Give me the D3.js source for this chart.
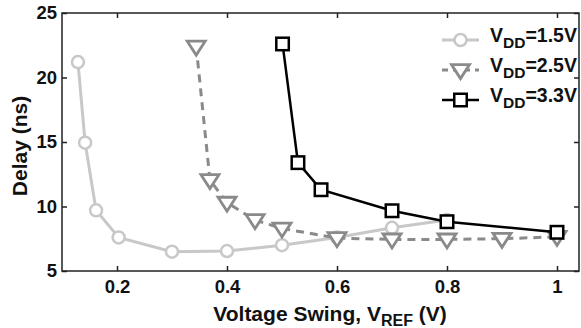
<!DOCTYPE html>
<html><head><meta charset="utf-8">
<script src="https://cdn.jsdelivr.net/npm/d3@7"></script>
<style>
html,body{margin:0;padding:0;background:#fff;}
svg{display:block;font-family:"Liberation Sans",Arial,Helvetica,sans-serif;font-weight:bold;}
</style></head>
<body><svg id="c" width="581" height="328"></svg>
<script>
const xTicks = [0.2, 0.4, 0.6, 0.8, 1];
const xTickLabels = ["0.2", "0.4", "0.6", "0.8", "1"];
const yTicks = [5, 10, 15, 20, 25];
const yTickLabels = ["5", "10", "15", "20", "25"];

const seriesNames = ["1.5V", "2.5V", "3.3V"];
const vdd15X = [0.129, 0.142, 0.162, 0.203, 0.3, 0.4, 0.5, 0.6, 0.7, 0.8];
const vdd15Y = [21.2, 14.95, 9.7, 7.6, 6.5, 6.55, 7.0, 7.6, 8.35, 8.95];
const vdd25X = [0.344, 0.369, 0.4, 0.451, 0.5, 0.6, 0.7, 0.8, 0.9, 1.0];
const vdd25Y = [22.4, 12.05, 10.3, 8.95, 8.3, 7.55, 7.45, 7.45, 7.5, 7.65];
const vdd33X = [0.501, 0.529, 0.571, 0.7, 0.8, 1.0];
const vdd33Y = [22.6, 13.4, 11.3, 9.67, 8.82, 8.0];

const W = 581, H = 328;
const m = {left: 62, right: 2, top: 13, bottom: 57};
const svg = d3.select("#c");
const x = d3.scaleLinear().domain([0.1, 1.04]).range([m.left, W - m.right]);
const y = d3.scaleLinear().domain([5, 25]).range([H - m.bottom, m.top]);

const axisColor = "#222";
const tickFont = 18.5;

// frame
svg.append("rect").attr("x", x(0.1)).attr("y", y(25))
  .attr("width", x(1.04) - x(0.1)).attr("height", y(5) - y(25))
  .attr("fill", "none").attr("stroke", axisColor).attr("stroke-width", 1.5);

const gx = svg.append("g").attr("transform", `translate(0,${y(5)})`)
  .call(d3.axisBottom(x).tickValues(xTicks).tickFormat((d,i)=>xTickLabels[i]).tickSizeInner(-5).tickSizeOuter(0).tickPadding(9));
const gxt = svg.append("g").attr("transform", `translate(0,${y(25)})`)
  .call(d3.axisTop(x).tickValues(xTicks).tickFormat("").tickSizeInner(-5).tickSizeOuter(0));
const gy = svg.append("g").attr("transform", `translate(${x(0.1)},0)`)
  .call(d3.axisLeft(y).tickValues(yTicks).tickFormat((d,i)=>yTickLabels[i]).tickSizeInner(-5).tickSizeOuter(0).tickPadding(5));
const gyr = svg.append("g").attr("transform", `translate(${x(1.04)},0)`)
  .call(d3.axisRight(y).tickValues(yTicks).tickFormat("").tickSizeInner(-5).tickSizeOuter(0));
[gx, gxt, gy, gyr].forEach(g => {
  g.select(".domain").remove();
  g.selectAll(".tick line").attr("stroke", axisColor).attr("stroke-width", 1.5);
  g.selectAll("text").attr("fill", "#111").attr("font-size", tickFont)
    .attr("font-family", '"Liberation Sans",Arial,sans-serif').attr("font-weight", "bold");
});

// axis titles
svg.append("text").attr("transform", `translate(27,${(y(5)+y(25))/2 + 4}) rotate(-90)`)
  .attr("text-anchor", "middle").attr("font-size", 21).attr("fill", "#111").text("Delay (ns)");
const xl = svg.append("text").attr("x", 330).attr("y", 321)
  .attr("text-anchor", "middle").attr("font-size", 21).attr("fill", "#111");
xl.append("tspan").text("Voltage Swing, V");
xl.append("tspan").attr("font-size", 16).attr("dy", 5).text("REF");
xl.append("tspan").attr("dy", -5).text(" (V)");

const line = d3.line().x(d => x(d[0])).y(d => y(d[1]));
const styles = [
  {color: "#c8c8c8", width: 3, dash: null, shape: "circle"},
  {color: "#8a8a8a", width: 3, dash: "8,6", shape: "tri"},
  {color: "#000", width: 2.5, dash: null, shape: "square"}
];
const data = [
  vdd15X.map((v,i)=>[v, vdd15Y[i]]),
  vdd25X.map((v,i)=>[v, vdd25Y[i]]),
  vdd33X.map((v,i)=>[v, vdd33Y[i]])
];

function marker(g, shape, cx, cy, st) {
  if (shape === "circle") {
    g.append("circle").attr("cx", cx).attr("cy", cy).attr("r", 6)
      .attr("fill", "#fff").attr("stroke", st.color).attr("stroke-width", 2.5);
  } else if (shape === "tri") {
    const s = 9;
    g.append("path").attr("d", `M${cx-s},${cy-s*0.6}L${cx+s},${cy-s*0.6}L${cx},${cy+s*0.95}Z`)
      .attr("fill", "#fff").attr("stroke", st.color).attr("stroke-width", 2.8).attr("stroke-linejoin", "miter");
  } else {
    const s = 6.25;
    g.append("rect").attr("x", cx-s).attr("y", cy-s).attr("width", 2*s).attr("height", 2*s)
      .attr("fill", "#fff").attr("stroke", st.color).attr("stroke-width", 2.5);
  }
}

data.forEach((d, k) => {
  const st = styles[k];
  const g = svg.append("g");
  g.append("path").datum(d).attr("d", line).attr("fill", "none")
    .attr("stroke", st.color).attr("stroke-width", st.width)
    .attr("stroke-dasharray", st.dash);
  d.forEach(p => marker(g, st.shape, x(p[0]), y(p[1]), st));
});

// legend
const legY = [40, 70, 100];
seriesNames.forEach((name, k) => {
  const st = styles[k];
  const g = svg.append("g");
  g.append("line").attr("x1", 442).attr("x2", 479).attr("y1", legY[k]).attr("y2", legY[k])
    .attr("stroke", st.color).attr("stroke-width", st.width).attr("stroke-dasharray", st.dash ? "6,5" : null);
  marker(g, st.shape, 460.5, legY[k], st);
  const t = g.append("text").attr("x", 490).attr("y", legY[k] + 2).attr("font-size", 19.5).attr("fill", "#111");
  t.append("tspan").text("V");
  t.append("tspan").attr("font-size", 15.5).attr("dy", 6).text("DD");
  t.append("tspan").attr("dy", -6).text("=" + name);
});
</script></body></html>
